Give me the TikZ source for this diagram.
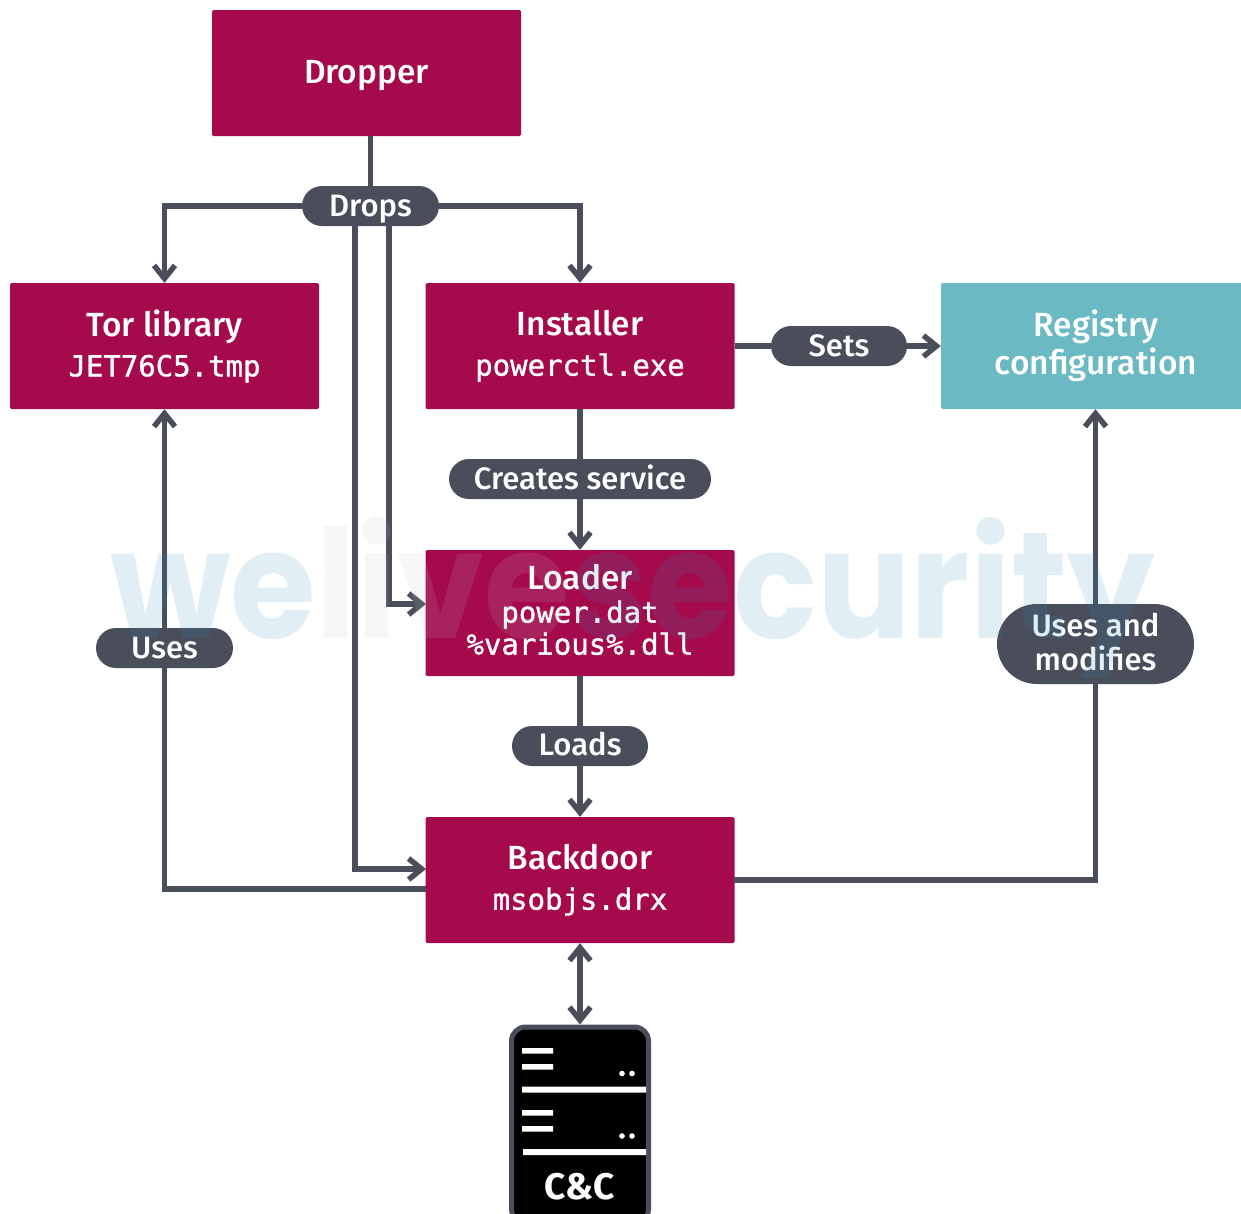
\documentclass[tikz,border=0pt]{standalone}
\usepackage{fontspec}
\setmainfont{Fira Sans Medium}[BoldFont=Fira Sans Bold]
\newfontfamily\monof{DejaVu Sans Mono}[FakeBold=1.2]
\newfontfamily\wmf{Poppins}[BoldFont=* Bold]
\usetikzlibrary{arrows.meta,calc}
\definecolor{crim}{HTML}{A50A4D}
\definecolor{tealb}{HTML}{6BB9C3}
\definecolor{slate}{HTML}{494E5A}
\definecolor{wmblue}{HTML}{298CB7}
\definecolor{wmgray}{HTML}{C1C1C1}
\newcommand{\mono}[1]{{\monof\fontsize{29}{33}\selectfont #1}}
\newcommand{\tallstrut}[1]{\rule{0pt}{#1}}
\newcommand{\deepstrut}[1]{\rule[-#1]{0pt}{1pt}}
\tikzset{
  x=1pt,y=-1pt,
  box/.style={fill=crim,text=white,minimum width=309pt,minimum height=126pt,inner sep=0pt,rounded corners=1.5pt,align=center,font=\fontsize{33.5}{38}\selectfont},
  pill/.style={fill=slate,text=white,minimum height=40pt,rounded corners=20pt,inner sep=0pt,align=center,font=\fontsize{31}{34}\selectfont},
  link/.style={draw=slate,line width=5.5pt},
  arr/.style={link,-{Straight Barb[length=13pt,width=21pt,line width=5.5pt]}},
  darr/.style={link,{Straight Barb[length=13pt,width=21pt,line width=5.5pt]}-{Straight Barb[length=13pt,width=21pt,line width=5.5pt]}},
}
\begin{document}
\begin{tikzpicture}
\useasboundingbox (0,0) rectangle (1241,1213);
\node[box] (dropper) at (366.5,73) {\tallstrut{29pt}Dropper};
\node[box] (tor) at (164.5,346) {Tor library\\[2pt]\mono{JET76C5.tmp}};
\node[box] (installer) at (580,346) {Installer\\[2pt]\mono{powerctl.exe}};
\begin{scope}
\clip (0,0) rectangle (1241,1213);
\node[box,fill=tealb,minimum width=310pt] (registry) at (1096,346) {Registry\\configuration};
\end{scope}
\node[box] (loader) at (580,613) {Loader\\[-5pt]\mono{power.dat}\\[-6pt]\mono{\%various\%.dll}\deepstrut{7pt}};
\node[box] (backdoor) at (580,880) {Backdoor\\[2pt]\mono{msobjs.drx}};
\node[pill,minimum width=137pt] (drops) at (370.5,206) {\tallstrut{27pt}Drops};
\node[pill,minimum width=136pt] (sets) at (839,346) {Sets};
\node[pill,minimum width=262pt] (creates) at (580,479) {Creates service\deepstrut{4pt}};
\node[pill,minimum width=137pt] (uses) at (164.5,648) {Uses};
\node[pill,minimum width=136pt] (loads) at (580,746) {Loads\deepstrut{4pt}};
\node[pill,minimum width=197pt,minimum height=80pt,rounded corners=40pt] (usesmod) at (1095.5,644) {Uses and\\modifies\deepstrut{4pt}};
\begin{scope}
\clip (0,0) rectangle (1241,1213);
\node[draw=slate,line width=5pt,fill=black,rounded corners=14pt,minimum width=137pt,minimum height=196pt,inner sep=0pt] (server) at (580,1125) {};
\end{scope}
\fill[white] (522,1048) rectangle (553,1053.5) (522,1064) rectangle (553,1069.5)
  (622,1073.5) circle (2.8) (632,1073.5) circle (2.8)
  (522,1086.5) rectangle (646,1092.5)
  (522,1110) rectangle (553,1115.5) (522,1126) rectangle (553,1131.5)
  (622,1136) circle (2.8) (632,1136) circle (2.8)
  (523,1149) rectangle (646,1155);
\node[text=white,font=\bfseries\fontsize{37}{40}\selectfont,inner sep=0pt] (cc) at (580,1187) {C\&C};
% connectors
\coordinate (d1) at (355,226);
\coordinate (d2) at (389,226);
\coordinate (lw) at (426,604);
\coordinate (bw1) at (426,869);
\coordinate (bw2) at (426,889);
\coordinate (be) at (734,880);
\coordinate (um) at (1095.5,604);
\coordinate (dt) at (370.5,136);
\draw[link] (dt) -- (drops.north);
\draw[arr] (drops.west) -| (tor.north);
\draw[arr] (drops.east) -| (installer.north);
\draw[arr] (d1) |- (bw1);
\draw[arr] (d2) |- (lw);
\draw[link] (installer.east) -- (sets.west);
\draw[arr] (sets.east) -- (registry.west);
\draw[link] (installer.south) -- (creates.north);
\draw[arr] (creates.south) -- (loader.north);
\draw[link] (loader.south) -- (loads.north);
\draw[arr] (loads.south) -- (backdoor.north);
\draw[link] (bw2) -| (uses.south);
\draw[arr] (uses.north) -- (tor.south);
\draw[link] (be) -| (usesmod.south);
\draw[arr] (um) -- (um |- registry.south);
\draw[darr] (backdoor.south) -- (server.north);
% watermark
\node[text opacity=.14,inner sep=0pt,anchor=base west] (wm) at (110,638)
 {\scalebox{1}[1.09]{\resizebox{1045pt}{!}{\wmf\bfseries\fontsize{160}{160}\selectfont\textcolor{wmblue}{we}\textcolor{wmgray}{live}\textcolor{wmblue}{security}}}};
\end{tikzpicture}
\end{document}
